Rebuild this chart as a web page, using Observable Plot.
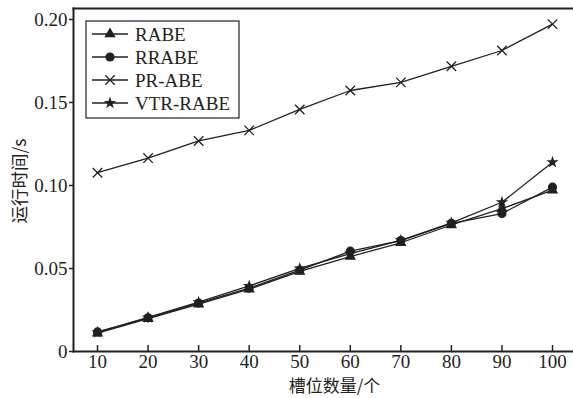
<!DOCTYPE html>
<html><head><meta charset="utf-8">
<script src="https://cdn.jsdelivr.net/npm/d3@7"></script>
<script src="https://cdn.jsdelivr.net/npm/@observablehq/plot@0.6"></script>
<style>body{margin:0;background:#fff}#chart{position:relative}</style>
</head><body><div id="chart"></div>
<script>
const slots = [10, 20, 30, 40, 50, 60, 70, 80, 90, 100];
const rabe = [0.0110, 0.0198, 0.0285, 0.0375, 0.0482, 0.0572, 0.0655, 0.0762, 0.0860, 0.0972];
const rrabe = [0.0118, 0.0203, 0.0292, 0.0382, 0.0490, 0.0604, 0.0668, 0.0772, 0.0831, 0.0990];
const prabe = [0.1077, 0.1165, 0.1268, 0.1332, 0.1458, 0.1572, 0.1621, 0.1718, 0.1813, 0.1972];
const vtrrabe = [0.0115, 0.0205, 0.0297, 0.0395, 0.0500, 0.0590, 0.0670, 0.0775, 0.0899, 0.1140];
const seriesNames = ["RABE", "RRABE", "PR-ABE", "VTR-RABE"];
const seriesSymbols = ["triangle", "circle", "times", "star"];
const yTicks = [0, 0.05, 0.10, 0.15, 0.20];
const yTickLabels = ["0", "0.05", "0.10", "0.15", "0.20"];
const xTicks = [10, 20, 30, 40, 50, 60, 70, 80, 90, 100];
const xTitle = "槽位数量/个";
const yTitle = "运行时间/s";

const ink = "#231f20";
const seriesValues = [rabe, rrabe, prabe, vtrrabe];
const rows = seriesNames.flatMap((name, i) =>
  slots.map((s, j) => ({series: name, slot: s, value: seriesValues[i][j]})));

const W = 573, H = 398;
const mL = 73, mT = 8, mR = 0, mB = 47;
const dotR = {triangle: 4.2, circle: 4.6, times: 4.4, star: 3.9};

const dotMarks = seriesNames.map((name, i) => {
  const sym = seriesSymbols[i];
  const isStroke = sym === "times";
  return Plot.dot(rows.filter(d => d.series === name), {
    x: "slot", y: "value", symbol: () => sym, r: dotR[sym],
    fill: isStroke ? "none" : ink, stroke: isStroke ? ink : "none", strokeWidth: 1.3
  });
});

const chart = Plot.plot({
  width: W, height: H,
  marginLeft: mL, marginTop: mT, marginRight: mR, marginBottom: mB,
  style: {fontFamily: "'Liberation Serif', 'Noto Sans CJK SC', serif", fontSize: "19px", color: ink, background: "#fff"},
  x: {domain: [5.25, 104.15], label: null},
  y: {domain: [0, 0.2066], label: null},
  symbol: {type: "identity"},
  marks: [
    Plot.line(rows, {x: "slot", y: "value", z: "series", stroke: ink, strokeWidth: 1.3}),
    ...dotMarks,
    Plot.frame({anchor: "top", stroke: ink, strokeWidth: 2}),
    Plot.frame({anchor: "left", stroke: ink, strokeWidth: 2}),
    Plot.frame({anchor: "bottom", stroke: ink, strokeWidth: 2}),
    Plot.axisY({ticks: yTicks, tickFormat: (d) => yTickLabels[yTicks.indexOf(d)], tickSize: 4, tickPadding: 2, strokeWidth: 1.5}),
    Plot.axisX({ticks: xTicks, tickSize: 0, tickPadding: 3}),
    Plot.tickX(xTicks, {x: d => d, insetTop: H - mT - mB - 6, stroke: ink, strokeWidth: 1.5}),
    Plot.text([xTitle], {frameAnchor: "bottom", dx: 11, dy: 40, fontFamily: "'Noto Sans CJK SC', sans-serif", fontSize: 17, fill: ink}),
    Plot.text([yTitle], {frameAnchor: "left", textAnchor: "middle", dx: -53, dy: 1, rotate: -90, fontFamily: "'Noto Sans CJK SC', sans-serif", fontSize: 17.5, fill: ink})
  ]
});
document.getElementById("chart").appendChild(chart);

// legend
const svg = d3.select(chart);
const lg = svg.append("g").attr("text-anchor", "start");
const box = {x: 86, y: 21, w: 153, h: 97};
lg.append("rect").attr("x", box.x).attr("y", box.y).attr("width", box.w).attr("height", box.h)
  .attr("fill", "#fff").attr("stroke", ink).attr("stroke-width", 1.2);
const symMap = {triangle: d3.symbolTriangle, circle: d3.symbolCircle, times: d3.symbolTimes, star: d3.symbolStar};
seriesNames.forEach((name, i) => {
  const yy = box.y + 13 + i * 23;
  lg.append("line").attr("x1", box.x + 6).attr("x2", box.x + 42).attr("y1", yy).attr("y2", yy)
    .attr("stroke", ink).attr("stroke-width", 1.3);
  const sym = seriesSymbols[i];
  const r = dotR[sym];
  lg.append("path").attr("d", d3.symbol(symMap[sym], Math.PI * r * r)())
    .attr("transform", `translate(${box.x + 24},${yy})`)
    .attr("fill", sym === "times" ? "none" : ink)
    .attr("stroke", sym === "times" ? ink : "none").attr("stroke-width", 1.3);
  lg.append("text").attr("x", box.x + 49).attr("y", yy).attr("dy", "0.35em")
    .attr("text-anchor", "start").attr("fill", ink).attr("font-size", 19).text(name);
});
</script>
</body></html>
